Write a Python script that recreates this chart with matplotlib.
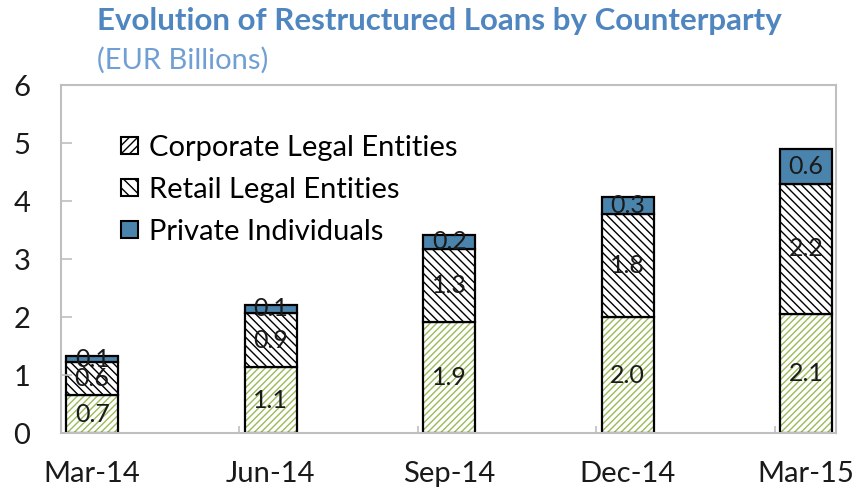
import matplotlib
matplotlib.use("Agg")
import matplotlib.pyplot as plt
import numpy as np
from matplotlib.patches import Patch

plt.rcParams['font.family'] = ['Lato', 'DejaVu Sans']
plt.rcParams['hatch.linewidth'] = 1.0

categories = ["Mar-14", "Jun-14", "Sep-14", "Dec-14", "Mar-15"]
corporate = [0.65, 1.13, 1.92, 2.00, 2.06]
retail = [0.57, 0.94, 1.26, 1.78, 2.24]
private = [0.10, 0.14, 0.24, 0.29, 0.60]
series_names = ["Corporate Legal Entities", "Retail Legal Entities", "Private Individuals"]
yticks = [0, 1, 2, 3, 4, 5, 6]

fig = plt.figure(figsize=(8.55, 4.94), dpi=100)
ax = fig.add_axes([61/855, 1-433/494, (836-61)/855, (433-85)/494])

x = np.arange(len(categories))
w = 0.29
c = np.array(corporate); r = np.array(retail); p = np.array(private)

green = '#9bbb59'
ax.bar(x, c, w, facecolor='white', edgecolor=green, hatch='/////', linewidth=0)
ax.bar(x, c, w, facecolor='none', edgecolor='black', linewidth=1.6)
ax.bar(x, r, w, bottom=c, facecolor='white', edgecolor='black', hatch='\\\\\\\\', linewidth=1.6)
ax.bar(x, p, w, bottom=c + r, facecolor='#4a84ad', edgecolor='black', linewidth=1.6)

for i in range(len(x)):
    for val, bot in ((c[i], 0), (r[i], c[i]), (p[i], c[i] + r[i])):
        ax.text(x[i], bot + val / 2, f"{val:.1f}", ha='center', va='center',
                fontsize=18, color='#1a1a1a')

ax.set_xlim(-0.148, 4.167)
ax.set_ylim(0, 6)
ax.set_yticks(yticks)
ax.set_xticks(x)
ax.set_xticklabels(categories)
ax.set_xticks(x - 0.175, minor=True)
ax.tick_params(axis='y', direction='in', length=8, width=1.2, color='#bfbfbf',
               labelsize=21, pad=22, labelcolor='#1a1a1a')
ax.tick_params(axis='x', which='major', length=0, labelsize=21, pad=20, labelcolor='#1a1a1a')
ax.tick_params(axis='x', which='minor', direction='in', length=5, width=1.2, color='#bfbfbf')
for s in ax.spines.values():
    s.set_color('#bfbfbf')
    s.set_linewidth(1.5)

h1 = Patch(facecolor='white', edgecolor='black', hatch='////', linewidth=1.5)
h2 = Patch(facecolor='white', edgecolor='black', hatch='\\\\\\', linewidth=1.5)
h3 = Patch(facecolor='#4a84ad', edgecolor='black', linewidth=1.5)
ax.legend([h1, h2, h3], series_names, loc='upper left', bbox_to_anchor=(0.063, 0.89),
          frameon=False, fontsize=21, handlelength=0.55, handleheight=0.55,
          handletextpad=0.4, labelspacing=0.55, borderaxespad=0)

fig.text(97/855, 1-21/494, "Evolution of Restructured Loans by Counterparty",
         fontsize=22.5, fontweight='bold', color='#4f86c0', va='center', ha='left')
fig.text(97/855, 1-60/494, "(EUR Billions)", fontsize=21, color='#6f9fd3',
         va='center', ha='left')

fig.savefig("out.png", dpi=100)
